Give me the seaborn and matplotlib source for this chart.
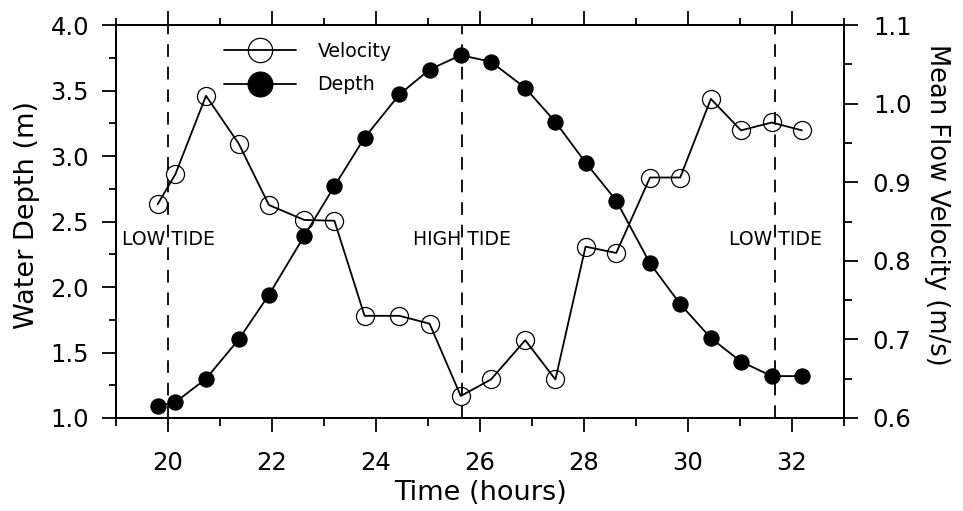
import numpy as np
import pandas as pd
import matplotlib
matplotlib.use("Agg")
import matplotlib.pyplot as plt
from matplotlib.ticker import MultipleLocator, FormatStrFormatter
import seaborn as sns

# ---- data ----
time_h = [19.80, 20.14, 20.73, 21.36, 21.94, 22.62, 23.20, 23.78, 24.45, 25.03, 25.63,
          26.21, 26.87, 27.45, 28.03, 28.62, 29.27, 29.85, 30.44, 31.02, 31.61, 32.19]
depth_m = [1.09, 1.12, 1.30, 1.60, 1.94, 2.39, 2.77, 3.14, 3.47, 3.66, 3.77,
           3.72, 3.52, 3.26, 2.95, 2.66, 2.18, 1.87, 1.61, 1.43, 1.32, 1.32]
velocity_ms = [0.872, 0.910, 1.010, 0.949, 0.871, 0.852, 0.851, 0.730, 0.730, 0.720, 0.628,
               0.649, 0.699, 0.649, 0.818, 0.810, 0.906, 0.906, 1.006, 0.966, 0.976, 0.966]
tide_times = [20.0, 25.66, 31.68]
tide_labels = ["LOW TIDE", "HIGH TIDE", "LOW TIDE"]

df = pd.DataFrame({"time": time_h, "depth": depth_m, "velocity": velocity_ms})

sns.set_style("ticks")
plt.rcParams["font.family"] = ["DejaVu Sans"]
plt.rcParams.update({"text.color": "black", "axes.labelcolor": "black",
                     "xtick.color": "black", "ytick.color": "black",
                     "axes.edgecolor": "black"})

fig = plt.figure(figsize=(9.63, 5.11), dpi=100)
ax = fig.add_axes([0.1205, 0.182, 0.7559, 0.769])
ax2 = ax.twinx()

sns.lineplot(data=df, x="time", y="depth", ax=ax, color="black", lw=1.3,
             marker="o", markersize=11, markerfacecolor="black",
             markeredgecolor="black", label="Depth", estimator=None, legend=False)
sns.lineplot(data=df, x="time", y="velocity", ax=ax2, color="black", lw=1.3,
             marker="o", markersize=13, markerfacecolor="none",
             markeredgecolor="black", markeredgewidth=0.9, label="Velocity",
             estimator=None, legend=False)

for t in tide_times:
    ax.axvline(t, color="black", lw=1.3, linestyle=(0, (7, 5.5)), zorder=1)
for t, s in zip(tide_times, tide_labels):
    ax.text(t, 2.36, s, ha="center", va="center", fontsize=13.6, color="black")

ax.set_xlim(19, 33)
ax.set_ylim(1.0, 4.0)
ax2.set_ylim(0.6, 1.1)

ax.xaxis.set_major_locator(MultipleLocator(2))
ax.xaxis.set_minor_locator(MultipleLocator(1))
ax.yaxis.set_major_locator(MultipleLocator(0.5))
ax.yaxis.set_minor_locator(MultipleLocator(0.25))
ax.yaxis.set_major_formatter(FormatStrFormatter("%.1f"))
ax2.yaxis.set_major_locator(MultipleLocator(0.1))
ax2.yaxis.set_minor_locator(MultipleLocator(0.05))
ax2.yaxis.set_major_formatter(FormatStrFormatter("%.1f"))

for a in (ax, ax2):
    for sp in a.spines.values():
        sp.set_visible(True)
        sp.set_linewidth(1.3)
        sp.set_color("black")

ax.tick_params(axis="x", which="both", top=True, bottom=True, direction="out",
               width=1.3, color="black", labelcolor="black", labelsize=17.5, pad=13.5)
ax.tick_params(axis="x", which="major", length=10)
ax.tick_params(axis="x", which="minor", length=5.4)
ax.tick_params(axis="y", which="both", direction="out", width=1.3, color="black",
               labelcolor="black", labelsize=17.5, pad=9.4)
ax.tick_params(axis="y", which="major", length=10)
ax.tick_params(axis="y", which="minor", length=5.4)
ax2.tick_params(axis="y", which="both", direction="out", width=1.3, color="black",
                labelcolor="black", labelsize=17.5, pad=10.8)
ax2.tick_params(axis="y", which="major", length=10)
ax2.tick_params(axis="y", which="minor", length=5.4)

ax.set_xlabel("Time (hours)", fontsize=19.5, color="black")
ax.xaxis.set_label_coords(0.5, -0.158)
ax.set_ylabel("Water Depth (m)", fontsize=19.5, color="black")
ax.yaxis.set_label_coords(-0.105, 0.516)
ax2.set_ylabel("Mean Flow Velocity (m/s)", fontsize=18.5, rotation=270, va="bottom",
               color="black")
ax2.yaxis.set_label_coords(1.11, 0.542)

h1, l1 = ax2.get_legend_handles_labels()
h2, l2 = ax.get_legend_handles_labels()
for a in (ax, ax2):
    if a.get_legend() is not None:
        a.get_legend().remove()
leg = ax2.legend(h1 + h2, l1 + l2, loc="upper left", bbox_to_anchor=(0.1484, 0.958),
                 frameon=False, fontsize=13.6, handlelength=3.8, handletextpad=1.15,
                 labelspacing=0.78, borderpad=0, borderaxespad=0, labelcolor="black")
sizes = [17.5, 18]
for hd, ms in zip(leg.legend_handles, sizes):
    hd.set_markersize(ms)

fig.savefig("out.png", dpi=100)
